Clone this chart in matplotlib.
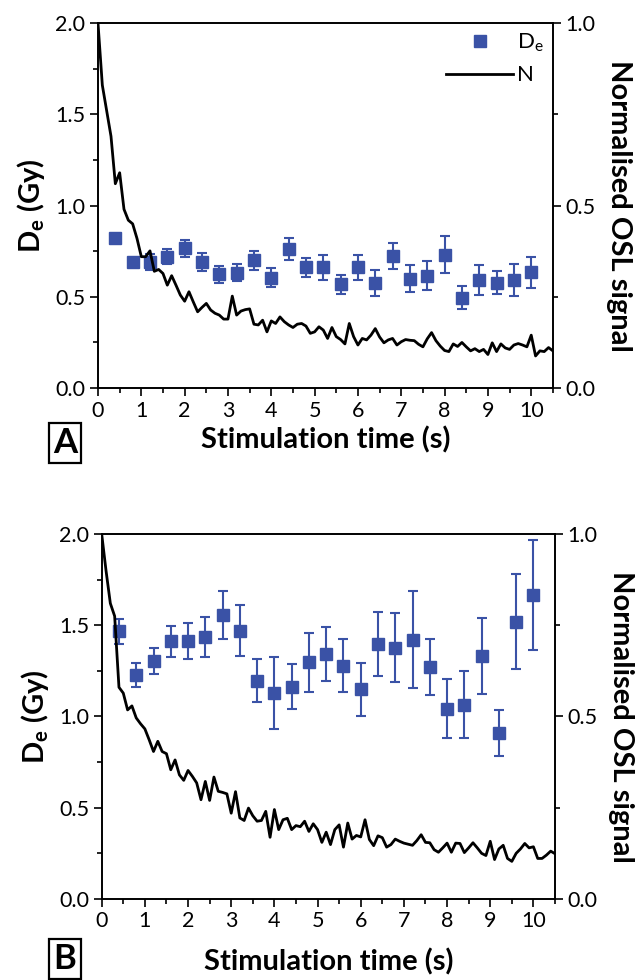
import matplotlib
matplotlib.use("Agg")
import matplotlib.pyplot as plt
from matplotlib.ticker import MultipleLocator
from matplotlib.lines import Line2D
import numpy as np

plt.rcParams['font.family'] = ['Lato', 'DejaVu Sans']
plt.rcParams['mathtext.fontset'] = 'custom'
plt.rcParams['mathtext.rm'] = 'Lato'
plt.rcParams['mathtext.it'] = 'Lato'
plt.rcParams['mathtext.bf'] = 'Lato:bold'

# ---- data ----
de_time = [0.4, 0.8, 1.2, 1.6, 2.0, 2.4, 2.8, 3.2, 3.6, 4.0, 4.4, 4.8, 5.2,
           5.6, 6.0, 6.4, 6.8, 7.2, 7.6, 8.0, 8.4, 8.8, 9.2, 9.6, 10.0]

# panel A
de_a = [0.82, 0.69, 0.69, 0.72, 0.765, 0.69, 0.623, 0.632, 0.70, 0.605, 0.762,
        0.661, 0.661, 0.568, 0.661, 0.577, 0.723, 0.60, 0.615, 0.732, 0.495,
        0.592, 0.577, 0.592, 0.634]
de_a_err = [0.02, 0.02, 0.044, 0.04, 0.045, 0.05, 0.048, 0.047, 0.053, 0.053,
            0.06, 0.054, 0.067, 0.05, 0.07, 0.07, 0.073, 0.074, 0.08, 0.10,
            0.064, 0.084, 0.064, 0.089, 0.085]

# panel B
de_b = [1.466, 1.228, 1.305, 1.411, 1.415, 1.435, 1.557, 1.471, 1.197, 1.128,
        1.164, 1.296, 1.343, 1.278, 1.15, 1.398, 1.378, 1.42, 1.27, 1.042,
        1.064, 1.332, 0.909, 1.52, 1.666]
de_b_err = [0.068, 0.066, 0.073, 0.086, 0.10, 0.109, 0.13, 0.14, 0.116, 0.197,
            0.125, 0.163, 0.149, 0.145, 0.145, 0.176, 0.187, 0.265, 0.154,
            0.161, 0.183, 0.21, 0.126, 0.26, 0.30]

# normalised OSL signal, 0.1 s channels
osl_time = np.round(np.arange(0, 10.55, 0.1), 1)
osl_a = [1.00, 0.83, 0.76, 0.69, 0.56, 0.59, 0.49, 0.46, 0.45, 0.41,
         0.36, 0.36, 0.376, 0.32, 0.325, 0.314, 0.282, 0.308, 0.282, 0.255,
         0.238, 0.264, 0.236, 0.209, 0.221, 0.232, 0.214, 0.205, 0.200, 0.189,
         0.189, 0.252, 0.200, 0.211, 0.215, 0.217, 0.175, 0.173, 0.186, 0.154,
         0.184, 0.177, 0.195, 0.182, 0.173, 0.166, 0.175, 0.177, 0.170, 0.150,
         0.154, 0.168, 0.159, 0.136, 0.166, 0.141, 0.133, 0.121, 0.177, 0.141,
         0.118, 0.136, 0.132, 0.145, 0.163, 0.140, 0.124, 0.132, 0.136, 0.118,
         0.127, 0.133, 0.131, 0.130, 0.120, 0.113, 0.135, 0.152, 0.130, 0.115,
         0.103, 0.100, 0.121, 0.114, 0.125, 0.113, 0.102, 0.108, 0.100, 0.106,
         0.092, 0.124, 0.100, 0.121, 0.110, 0.106, 0.118, 0.122, 0.118, 0.113,
         0.145, 0.088, 0.102, 0.100, 0.111, 0.102]
osl_b = [1.00, 0.90, 0.81, 0.775, 0.58, 0.564, 0.518, 0.529, 0.496, 0.480,
         0.466, 0.436, 0.404, 0.432, 0.404, 0.398, 0.354, 0.381, 0.340, 0.325,
         0.352, 0.336, 0.318, 0.272, 0.322, 0.270, 0.334, 0.295, 0.292, 0.288,
         0.235, 0.294, 0.222, 0.215, 0.249, 0.228, 0.213, 0.215, 0.240, 0.169,
         0.245, 0.190, 0.217, 0.221, 0.190, 0.201, 0.198, 0.213, 0.185, 0.206,
         0.190, 0.155, 0.183, 0.149, 0.190, 0.203, 0.142, 0.208, 0.164, 0.174,
         0.170, 0.217, 0.163, 0.146, 0.173, 0.168, 0.142, 0.149, 0.164, 0.158,
         0.153, 0.150, 0.147, 0.160, 0.176, 0.155, 0.154, 0.135, 0.128, 0.140,
         0.153, 0.128, 0.153, 0.152, 0.127, 0.140, 0.154, 0.140, 0.125, 0.119,
         0.158, 0.108, 0.137, 0.147, 0.111, 0.103, 0.125, 0.137, 0.152, 0.140,
         0.143, 0.111, 0.111, 0.120, 0.131, 0.124]

BLUE = '#3a52a6'


def draw_panel(rect, de, de_err, osl, letter, legend, xpad, letter_xy):
    ax = fig.add_axes(rect)
    ax2 = ax.twinx()

    ax.errorbar(de_time, de, yerr=de_err, fmt='s', color=BLUE, ms=8,
                elinewidth=1.5, capsize=3.8, capthick=1.5, zorder=3)
    ax2.plot(osl_time, osl, color='black', lw=2.0)

    ax.set_xlim(0, 10.5)
    ax.set_ylim(0, 2.0)
    ax2.set_ylim(0, 1.0)

    ax.xaxis.set_major_locator(MultipleLocator(1))
    ax.xaxis.set_minor_locator(MultipleLocator(0.5))
    ax.yaxis.set_minor_locator(MultipleLocator(0.25))
    ax2.yaxis.set_minor_locator(MultipleLocator(0.25))
    ax.set_yticks([0, 0.5, 1.0, 1.5, 2.0])
    ax.set_yticklabels(['0.0', '0.5', '1.0', '1.5', '2.0'])
    ax2.set_yticks([0, 0.5, 1.0])
    ax2.set_yticklabels(['0.0', '0.5', '1.0'])

    for a in (ax, ax2):
        a.tick_params(which='major', length=6, width=1.2, labelsize=15.5,
                      direction='out', pad=3)
        a.tick_params(which='minor', length=3.5, width=1.2, direction='out')
        for s in a.spines.values():
            s.set_linewidth(1.2)

    ax.set_xlabel('Stimulation time (s)', fontsize=21, fontweight='bold',
                  labelpad=xpad)
    ax.set_ylabel(r'D$_{\mathbf{e}}$ (Gy)', fontsize=21, fontweight='bold',
                  labelpad=6)
    ax2.set_ylabel('Normalised OSL signal', fontsize=21, fontweight='bold',
                   rotation=270, labelpad=26)

    if legend:
        handles = [Line2D([], [], ls='none', marker='s', ms=8, color=BLUE),
                   Line2D([], [], color='black', lw=2.0)]
        ax2.legend(handles, ['D$_\\mathrm{e}$', 'N'], loc='upper right',
                   frameon=False, fontsize=16, handlelength=3.0,
                   handletextpad=0.2, labelspacing=0.5, borderaxespad=0.0)

    fig.text(letter_xy[0], letter_xy[1], letter, fontsize=25,
             fontweight='bold', ha='center', va='center',
             bbox=dict(boxstyle='square,pad=0.12', fc='white', ec='black',
                       lw=1.6))
    return ax


fig = plt.figure(figsize=(6.38, 9.8), dpi=100)
draw_panel([0.1536, 0.604, 0.713, 0.3724], de_a, de_a_err, osl_a, 'A', True,
           4, (65 / 638, 1 - 443 / 980))
draw_panel([0.1594, 0.0827, 0.7105, 0.3724], de_b, de_b_err, osl_b, 'B', False,
           12, (65 / 638, 1 - 959 / 980))

fig.savefig('out.png', dpi=100)
